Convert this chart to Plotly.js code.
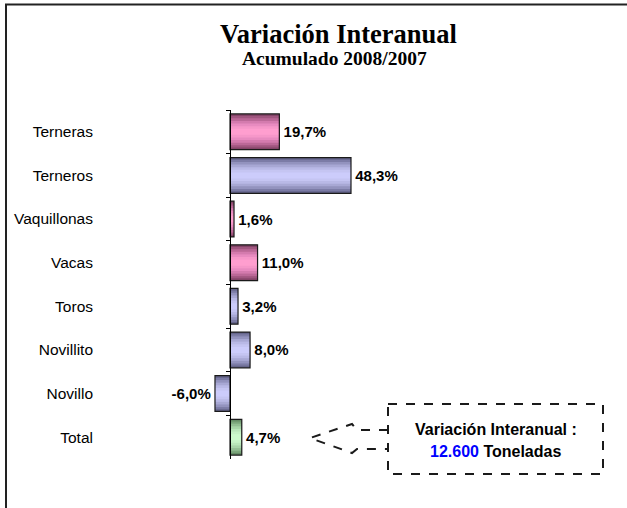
<!DOCTYPE html>
<html>
<head>
<meta charset="utf-8">
<script src="https://cdn.plot.ly/plotly-3.0.1.min.js"></script>
<style>html,body{margin:0;padding:0;background:#fff;}#chart{width:627px;height:508px;}</style>
</head>
<body>
<div id="chart"></div>
<script>
// ---- data ----
const categories = ['Terneras','Terneros','Vaquillonas','Vacas','Toros','Novillito','Novillo','Total'];
const values = [19.7, 48.3, 1.6, 11.0, 3.2, 8.0, -6.0, 4.7];
const chartTitle = 'Variación Interanual';
const chartSubtitle = 'Acumulado 2008/2007';
const calloutLine1 = 'Variación Interanual :';
const calloutAmount = '12.600';
const calloutUnit = 'Toneladas';

// ---- styles ----
const kindOf = {Terneras:'rosa',Terneros:'azul',Vaquillonas:'rosa',Vacas:'rosa',Toros:'azul',Novillito:'azul',Novillo:'azul',Total:'verde'};
const palettes = {
  rosa:  ['#844468','#a0567f','#bb6897','#d47bae','#e88bc0','#f697c9','#ff9ecf'],
  azul:  ['#66668c','#7c7ca6','#9393be','#a8a8d4','#b9b9e6','#c5c5f2','#ccccfb'],
  verde: ['#668c66','#7ca67c','#93be93','#a8d4a8','#b9e6b9','#c5f2c5','#ccfbcc']
};
const layerWidths = [0.82, 0.72, 0.62, 0.5, 0.38, 0.26, 0.14];

const W = 627, H = 508;
const m = {l: 98, r: 17, t: 110, b: 49};
const pw = W - m.l - m.r, ph = H - m.t - m.b;
const xRange = [-52.7, 151.7];
const px = x => (x - m.l) / pw;
const py = y => 1 - (y - m.t) / ph;

const fmt = v => v.toFixed(1).replace('.', ',') + '%';
const padLabel = v => v < 0 ? fmt(v) + '\u200A' : '\u200A' + fmt(v);
const labelFont = "'Liberation Sans', Arial, sans-serif";

const traces = [];
layerWidths.forEach((w, i) => {
  traces.push({
    type: 'bar', orientation: 'h',
    x: values, y: categories,
    width: categories.map(() => w),
    marker: {color: categories.map(c => palettes[kindOf[c]][i]), line: {width: 0}},
    hoverinfo: 'skip', showlegend: false
  });
});
traces.push({
  type: 'bar', orientation: 'h',
  x: values, y: categories,
  width: categories.map(() => 0.82),
  marker: {color: 'rgba(0,0,0,0)', line: {color: '#1a1a1a', width: 1.2}},
  text: values.map(padLabel),
  textposition: 'outside',
  textfont: {family: labelFont, size: 15, color: '#000', weight: 'bold'},
  cliponaxis: false,
  showlegend: false
});
// axis carrier at zero
traces.push({
  type: 'scatter', mode: 'none', x: values.map(() => 0), y: categories,
  yaxis: 'y2', hoverinfo: 'skip', showlegend: false
});

const dashLine = {color: '#1a1a1a', width: 2, dash: 'dash'};
const path = pts => pts.map((p, i) => (i ? 'L' : 'M') + px(p[0]).toFixed(5) + ',' + py(p[1]).toFixed(5)).join(' ');

const layout = {
  width: W, height: H,
  margin: m,
  paper_bgcolor: '#fff', plot_bgcolor: 'rgba(0,0,0,0)',
  barmode: 'overlay',
  showlegend: false,
  xaxis: {range: xRange, visible: false, fixedrange: true},
  yaxis: {
    type: 'category', categoryarray: categories, categoryorder: 'array',
    range: [7.5, -0.5], showline: false, ticks: '', showgrid: false, zeroline: false,
    tickfont: {family: labelFont, size: 15.5, color: '#000'}, ticklabelstandoff: 4
  },
  yaxis2: {
    type: 'category', categoryarray: categories, categoryorder: 'array',
    range: [7.5, -0.5], overlaying: 'y', anchor: 'free', side: 'left',
    position: (0 - xRange[0]) / (xRange[1] - xRange[0]),
    showline: true, linecolor: '#000', linewidth: 1,
    ticks: 'outside', ticklen: 4, tickcolor: '#000', tickwidth: 1, tickson: 'boundaries',
    showticklabels: false, showgrid: false, zeroline: false
  },
  title: {
    text: chartTitle, x: 338.5 / W, xref: 'container', xanchor: 'center',
    y: 1 - 34 / H, yref: 'container', yanchor: 'middle',
    font: {family: "'Liberation Serif', 'Times New Roman', serif", size: 26.5, color: '#000', weight: 'bold'}
  },
  annotations: [
    {text: chartSubtitle, xref: 'paper', yref: 'paper', x: px(334.5), y: py(58.5),
     xanchor: 'center', yanchor: 'middle', showarrow: false,
     font: {family: "'Liberation Serif', 'Times New Roman', serif", size: 19.5, color: '#000', weight: 'bold'}},
    {text: calloutLine1, xref: 'paper', yref: 'paper', x: px(495.5), y: py(429),
     xanchor: 'center', yanchor: 'middle', showarrow: false,
     font: {family: labelFont, size: 16, color: '#000', weight: 'bold'}},
    {text: '<span style="color:#0000ff">' + calloutAmount + '</span> ' + calloutUnit,
     xref: 'paper', yref: 'paper', x: px(495), y: py(451),
     xanchor: 'center', yanchor: 'middle', showarrow: false,
     font: {family: labelFont, size: 16, color: '#000', weight: 'bold'}}
  ],
  shapes: [
    {type: 'rect', xref: 'paper', yref: 'paper', x0: px(6), x1: px(660), y0: py(4.5), y1: py(540),
     line: {color: '#222', width: 2}, fillcolor: 'rgba(0,0,0,0)', layer: 'below'},
    {type: 'rect', xref: 'paper', yref: 'paper', x0: px(388), x1: px(603), y0: py(404), y1: py(474),
     line: dashLine, fillcolor: 'rgba(0,0,0,0)'},
    {type: 'path', xref: 'paper', yref: 'paper',
     path: path([[388,430],[357,430],[352,424],[310,438],[352,453],[357,449],[388,449]]),
     line: dashLine}
  ]
};

Plotly.newPlot('chart', traces, layout, {displayModeBar: false, staticPlot: true});
</script>
</body>
</html>
